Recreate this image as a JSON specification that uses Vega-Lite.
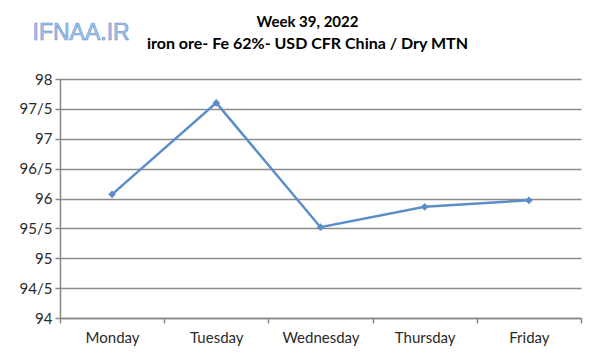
{
  "$schema": "https://vega.github.io/schema/vega-lite/v6.json",
  "width": 521,
  "height": 239,
  "autosize": {"type": "none"},
  "padding": {"left": 60, "top": 79, "right": 19, "bottom": 41},
  "background": "white",
  "config": {
    "font": "Lato",
    "view": {"stroke": null}
  },
  "title": {
    "text": "Week 39, 2022",
    "subtitle": "iron ore- Fe 62%- USD CFR China / Dry MTN",
    "font": "Lato",
    "fontSize": 15,
    "fontWeight": "bold",
    "color": "#000000",
    "subtitleFont": "Lato",
    "subtitleFontSize": 16,
    "subtitleFontWeight": "bold",
    "subtitleColor": "#000000",
    "subtitlePadding": 6,
    "anchor": "middle",
    "dx": -13,
    "offset": -30
  },
  "data": {
    "values": [
      {"day": "Monday", "price": 96.07},
      {"day": "Tuesday", "price": 97.6},
      {"day": "Wednesday", "price": 95.52},
      {"day": "Thursday", "price": 95.86},
      {"day": "Friday", "price": 95.97}
    ]
  },
  "encoding": {
    "x": {
      "field": "day",
      "type": "nominal",
      "sort": null,
      "bandPosition": 0.5,
      "scale": {"type": "band", "paddingInner": 0, "paddingOuter": 0},
      "axis": {
        "title": null,
        "labelAngle": 0,
        "labelFontSize": 15,
        "labelColor": "#2a2a2a",
        "labelPadding": 7,
        "tickBand": "extent",
        "tickSize": 5,
        "tickColor": "#868686",
        "domainColor": "#868686",
        "domainWidth": 1.5,
        "tickWidth": 1.5,
        "grid": false
      }
    },
    "y": {
      "field": "price",
      "type": "quantitative",
      "scale": {"domain": [94, 98], "nice": false, "zero": false},
      "axis": {
        "title": null,
        "values": [94, 94.5, 95, 95.5, 96, 96.5, 97, 97.5, 98],
        "labelExpr": "replace(toString(datum.value), '.', '/')",
        "labelFontSize": 15,
        "labelColor": "#2a2a2a",
        "labelPadding": 3,
        "tickSize": 5,
        "tickColor": "#868686",
        "tickWidth": 1.5,
        "domainColor": "#868686",
        "domainWidth": 1.5,
        "grid": true,
        "gridColor": "#8c8c8c",
        "gridWidth": 1.5
      }
    }
  },
  "layer": [
    {
      "mark": {"type": "line", "color": "#5b8ec9", "strokeWidth": 2.5}
    },
    {
      "mark": {"type": "point", "shape": "diamond", "filled": true, "color": "#5b8ec9", "size": 60, "opacity": 1}
    },
    {
      "data": {"values": [{"logo": "IFNAA.IR", "day": "Monday", "price": 98.74}]},
      "mark": {
        "type": "text",
        "font": "Liberation Sans",
        "fontSize": 23,
        "fill": "#a7c7ee",
        "stroke": "#5f8fcf",
        "strokeWidth": 0.6,
        "dx": -31,
        "dy": -2,
        "baseline": "middle",
        "align": "center",
        "clip": false
      },
      "encoding": {
        "text": {"field": "logo"},
        "x": {"field": "day", "type": "nominal", "bandPosition": 0.5},
        "y": {"field": "price", "type": "quantitative"}
      }
    }
  ]
}
